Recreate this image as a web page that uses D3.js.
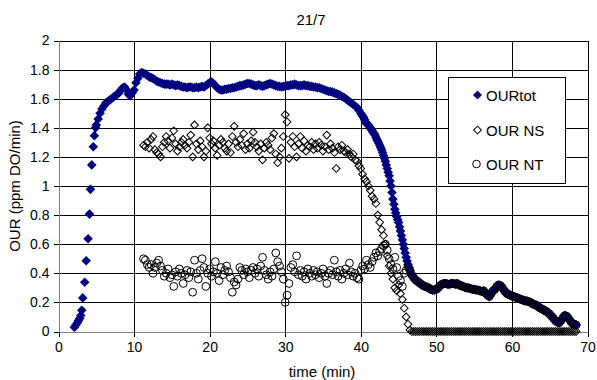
<!DOCTYPE html>
<html><head><meta charset="utf-8">
<script src="https://cdn.jsdelivr.net/npm/d3@7"></script>
<style>
body{margin:0;background:#fff}
text{font-family:"Liberation Sans",Arial,sans-serif;fill:#000}
</style>
</head><body>
<svg id="chart" width="597" height="380"></svg>
<script>
// ---------- data ----------
const chartTitle = "21/7";
const xTitle = "time (min)";
const yTitle = "OUR (ppm DO/min)";
const seriesNames = ["OURtot", "OUR NS", "OUR NT"];
const xTicks = [0, 10, 20, 30, 40, 50, 60, 70];
const yTicks = [0, 0.2, 0.4, 0.6, 0.8, 1, 1.2, 1.4, 1.6, 1.8, 2];
const yTickLabels = ["0", "0.2", "0.4", "0.6", "0.8", "1", "1.2", "1.4", "1.6", "1.8", "2"];

// OURtot, start-up (irregular sample times)
const totEarlyTime  = [2.1, 2.3, 2.5, 2.65, 2.8, 2.95, 3.08, 3.21, 3.47, 3.66, 3.92, 4.10, 4.23, 4.40, 4.60, 4.75, 4.9];
const totEarlyValue = [0.03, 0.045, 0.06, 0.075, 0.09, 0.11, 0.146, 0.231, 0.339, 0.486, 0.637, 0.807, 0.977, 1.145, 1.27, 1.346, 1.40];

// OURtot, extra samples read along the steep fall (times between the regular samples)
const totFallTime  = [40.125, 40.375, 40.625, 40.875, 41.125, 41.375, 41.625, 41.875, 42.125, 42.375, 42.625, 42.875, 43.125,
                      43.375, 43.625, 43.875, 44.125, 44.375, 44.625, 44.875, 45.125, 45.375, 45.625, 45.875, 46.125, 46.375];
const totFallValue = [1.49, 1.47, 1.44, 1.425, 1.41, 1.39, 1.37, 1.35, 1.32, 1.295, 1.265, 1.23, 1.19,
                      1.145, 1.095, 1.035, 0.955, 0.875, 0.815, 0.77, 0.72, 0.66, 0.60, 0.54, 0.485, 0.44];

// regularly sampled part: one row per minute, 4 samples per row
const sampleStep = 0.25;
const totStart = 5.0;
const totValues = [
 1.42,1.46,1.50,1.53,      // 5
 1.55,1.57,1.58,1.59,      // 6
 1.60,1.61,1.62,1.63,      // 7
 1.64,1.66,1.675,1.68,     // 8
 1.66,1.63,1.62,1.64,      // 9
 1.66,1.71,1.74,1.77,      // 10
 1.78,1.775,1.77,1.76,     // 11
 1.75,1.745,1.74,1.73,     // 12
 1.72,1.715,1.71,1.705,    // 13
 1.70,1.70,1.70,1.695,     // 14
 1.70,1.695,1.69,1.695,    // 15
 1.69,1.685,1.68,1.68,     // 16
 1.675,1.68,1.68,1.675,    // 17
 1.675,1.68,1.675,1.68,    // 18
 1.685,1.68,1.69,1.70,     // 19
 1.71,1.715,1.705,1.69,    // 20
 1.675,1.665,1.66,1.66,    // 21
 1.665,1.665,1.67,1.67,    // 22
 1.675,1.675,1.68,1.685,   // 23
 1.69,1.69,1.695,1.70,     // 24
 1.705,1.705,1.70,1.695,   // 25
 1.69,1.69,1.695,1.69,     // 26
 1.685,1.69,1.695,1.70,    // 27
 1.705,1.70,1.695,1.69,    // 28
 1.685,1.685,1.68,1.685,   // 29
 1.685,1.69,1.69,1.695,    // 30
 1.695,1.70,1.695,1.69,    // 31
 1.69,1.69,1.695,1.69,     // 32
 1.69,1.685,1.685,1.68,    // 33
 1.68,1.675,1.675,1.67,    // 34
 1.665,1.66,1.655,1.65,    // 35
 1.65,1.645,1.64,1.635,    // 36
 1.63,1.625,1.615,1.61,    // 37
 1.60,1.59,1.58,1.57,      // 38
 1.56,1.55,1.54,1.52,      // 39
 1.50,1.48,1.455,1.43,     // 40
 1.42,1.40,1.38,1.36,      // 41
 1.335,1.31,1.28,1.25,     // 42
 1.21,1.17,1.12,1.07,      // 43
 1.00,0.91,0.84,0.79,      // 44
 0.75,0.69,0.63,0.57,      // 45
 0.51,0.46,0.42,0.39,      // 46
 0.37,0.355,0.345,0.335,   // 47
 0.325,0.315,0.31,0.305,   // 48
 0.30,0.29,0.285,0.285,    // 49
 0.29,0.30,0.315,0.325,    // 50
 0.33,0.33,0.325,0.325,    // 51
 0.33,0.33,0.325,0.33,     // 52
 0.32,0.315,0.31,0.305,    // 53
 0.30,0.30,0.295,0.29,     // 54
 0.29,0.285,0.285,0.28,    // 55
 0.275,0.28,0.265,0.25,    // 56
 0.24,0.26,0.28,0.29,      // 57
 0.31,0.32,0.315,0.30,     // 58
 0.28,0.265,0.255,0.25,    // 59
 0.245,0.24,0.235,0.23,    // 60
 0.225,0.22,0.215,0.21,    // 61
 0.21,0.205,0.20,0.19,     // 62
 0.185,0.18,0.17,0.16,     // 63
 0.155,0.145,0.14,0.13,    // 64
 0.12,0.105,0.09,0.075,    // 65
 0.065,0.06,0.075,0.095,   // 66
 0.11,0.105,0.09,0.07,     // 67
 0.055,0.05,0.045          // 68
];

const subStart = 11.25;
const nsValues = [
 1.28,1.27,1.30,1.26,  // 11.25
 1.32,1.34,1.25,1.23,  // 12.25
 1.22,1.20,1.27,1.30,  // 13.25
 1.34,1.31,1.26,1.33,  // 14.25
 1.38,1.29,1.24,1.27,  // 15.25
 1.30,1.32,1.28,1.26,  // 16.25
 1.30,1.35,1.20,1.42,  // 17.25
 1.29,1.25,1.31,1.27,  // 18.25
 1.20,1.24,1.40,1.33,  // 19.25
 1.29,1.31,1.26,1.21,  // 20.25
 1.28,1.32,1.30,1.26,  // 21.25
 1.24,1.29,1.23,1.34,  // 22.25
 1.41,1.30,1.27,1.32,  // 23.25
 1.28,1.36,1.25,1.29,  // 24.25
 1.26,1.31,1.37,1.30,  // 25.25
 1.27,1.24,1.29,1.18,  // 26.25
 1.26,1.30,1.28,1.25,  // 27.25
 1.33,1.36,1.22,1.16,  // 28.25
 1.20,1.26,1.34,1.49,  // 29.25
 1.44,1.19,1.30,1.34,  // 30.25
 1.27,1.20,1.29,1.34,  // 31.25
 1.26,1.31,1.24,1.28,  // 32.25
 1.27,1.30,1.25,1.29,  // 33.25
 1.26,1.30,1.28,1.24,  // 34.25
 1.27,1.35,1.25,1.29,  // 35.25
 1.26,1.23,1.12,1.27,  // 36.25
 1.25,1.28,1.24,1.23,  // 37.25
 1.25,1.22,1.20,1.22,  // 38.25
 1.18,1.17,1.14,1.12,  // 39.25
 1.08,1.05,1.03,1.00,  // 40.25
 0.97,0.93,0.91,0.88,  // 41.25
 0.80,0.75,0.70,0.66,  // 42.25
 0.60,0.52,0.45,0.40,  // 43.25
 0.36,0.30,0.28,0.32,  // 44.25
 0.26,0.22,0.16,0.10,  // 45.25
 0.05,0.01,0,0,        // 46.25
 0,0,0,0,  // 47.25
 0,0,0,0,  // 48.25
 0,0,0,0,  // 49.25
 0,0,0,0,  // 50.25
 0,0,0,0,  // 51.25
 0,0,0,0,  // 52.25
 0,0,0,0,  // 53.25
 0,0,0,0,  // 54.25
 0,0,0,0,  // 55.25
 0,0,0,0,  // 56.25
 0,0,0,0,  // 57.25
 0,0,0,0,  // 58.25
 0,0,0,0,  // 59.25
 0,0,0,0,  // 60.25
 0,0,0,0,  // 61.25
 0,0,0,0,  // 62.25
 0,0,0,0,  // 63.25
 0,0,0,0,  // 64.25
 0,0,0,0,  // 65.25
 0,0,0,0,  // 66.25
 0,0,0,0,  // 67.25
 0,0       // 68.25
];

const ntValues = [
 0.50,0.49,0.46,0.44,  // 11.25
 0.46,0.40,0.44,0.47,  // 12.25
 0.49,0.45,0.42,0.38,  // 13.25
 0.40,0.43,0.37,0.39,  // 14.25
 0.31,0.41,0.38,0.43,  // 15.25
 0.40,0.33,0.39,0.42,  // 16.25
 0.37,0.41,0.27,0.49,  // 17.25
 0.40,0.36,0.42,0.50,  // 18.25
 0.44,0.31,0.40,0.43,  // 19.25
 0.38,0.41,0.48,0.40,  // 20.25
 0.35,0.44,0.39,0.42,  // 21.25
 0.45,0.41,0.37,0.27,  // 22.25
 0.34,0.32,0.36,0.44,  // 23.25
 0.42,0.39,0.43,0.41,  // 24.25
 0.37,0.42,0.44,0.40,  // 25.25
 0.43,0.38,0.45,0.51,  // 26.25
 0.42,0.39,0.36,0.41,  // 27.25
 0.38,0.43,0.54,0.48,  // 28.25
 0.45,0.41,0.36,0.20,  // 29.25
 0.25,0.33,0.44,0.46,  // 30.25
 0.41,0.52,0.39,0.42,  // 31.25
 0.38,0.41,0.36,0.43,  // 32.25
 0.40,0.38,0.42,0.39,  // 33.25
 0.41,0.37,0.40,0.43,  // 34.25
 0.38,0.33,0.40,0.42,  // 35.25
 0.39,0.49,0.41,0.38,  // 36.25
 0.42,0.36,0.40,0.43,  // 37.25
 0.39,0.47,0.41,0.38,  // 38.25
 0.40,0.37,0.36,0.42,  // 39.25
 0.45,0.43,0.49,0.46,  // 40.25
 0.44,0.48,0.51,0.54,  // 41.25
 0.52,0.55,0.57,0.59,  // 42.25
 0.60,0.56,0.50,0.46,  // 43.25
 0.43,0.51,0.44,0.38,  // 44.25
 0.35,0.31,0.40,0.42,  // 45.25
 0.45,0.42,0.39,0.37,  // 46.25
 0.355,0.345,0.335,0.325, // 47.25
 0.315,0.31,0.305,0.30,   // 48.25
 0.29,0.285,0.285,0.29,   // 49.25
 0.30,0.315,0.325,0.33,   // 50.25
 0.33,0.325,0.325,0.33,   // 51.25
 0.33,0.325,0.33,0.32,    // 52.25
 0.315,0.31,0.305,0.30,   // 53.25
 0.30,0.295,0.29,0.29,    // 54.25
 0.285,0.285,0.28,0.275,  // 55.25
 0.28,0.265,0.25,0.24,    // 56.25
 0.26,0.28,0.29,0.31,     // 57.25
 0.32,0.315,0.30,0.28,    // 58.25
 0.265,0.255,0.25,0.245,  // 59.25
 0.24,0.235,0.23,0.225,   // 60.25
 0.22,0.215,0.21,0.21,    // 61.25
 0.205,0.20,0.19,0.185,   // 62.25
 0.18,0.17,0.16,0.155,    // 63.25
 0.145,0.14,0.13,0.12,    // 64.25
 0.105,0.09,0.075,0.065,  // 65.25
 0.06,0.075,0.095,0.11,   // 66.25
 0.105,0.09,0.07,0.055,   // 67.25
 0.05,0.045               // 68.25
];

// ---------- build points ----------
const totPoints = totEarlyTime.map((t, i) => [t, totEarlyValue[i]])
  .concat(totValues.map((v, i) => [totStart + i * sampleStep, v]))
  .concat(totFallTime.map((t, i) => [t, totFallValue[i]]));
const nsPoints = nsValues.map((v, i) => [subStart + i * sampleStep, v]);
const ntPoints = ntValues.map((v, i) => [subStart + i * sampleStep, v]);

// ---------- drawing ----------
const svg = d3.select("#chart");
svg.append("rect").attr("width", 597).attr("height", 380).attr("fill", "#fff");

const L = 58.5, R = 587.5, T = 40.5, B = 331.5;
const x = d3.scaleLinear().domain([0, 70]).range([L, R]);
const y = d3.scaleLinear().domain([0, 2]).range([B, T]);

const grid = svg.append("g").attr("shape-rendering", "crispEdges");
grid.selectAll(".hg").data(yTicks.filter(d => d > 0)).join("line")
  .attr("x1", L).attr("x2", R)
  .attr("y1", d => Math.round(y(d)) + 0.5).attr("y2", d => Math.round(y(d)) + 0.5)
  .attr("stroke", "#000").attr("stroke-width", 1);
grid.selectAll(".vg").data(xTicks.filter(d => d > 0)).join("line")
  .attr("y1", T).attr("y2", B)
  .attr("x1", d => Math.round(x(d)) + 0.5).attr("x2", d => Math.round(x(d)) + 0.5)
  .attr("stroke", "#000").attr("stroke-width", 1);

// axes
const yAxis = d3.axisLeft(y).tickValues(yTicks).tickSize(5).tickPadding(4)
  .tickFormat((d, i) => yTickLabels[i]);
const gy = svg.append("g").attr("transform", `translate(${L},0)`).call(yAxis);
const xAxis = d3.axisBottom(x).tickValues(xTicks).tickSize(5).tickPadding(6)
  .tickFormat(d => String(d));
const gx = svg.append("g").attr("transform", `translate(0,${B})`).call(xAxis);
[gx, gy].forEach(g => {
  g.attr("shape-rendering", "crispEdges");
  g.select(".domain").attr("stroke", "#808080");
  g.selectAll(".tick line").attr("stroke", "#000");
  g.selectAll(".tick text").style("font-family", '"Liberation Sans",Arial,sans-serif')
   .style("font-size", "14px").attr("fill", "#000");
});
gy.select(".domain").attr("d", `M0.5,${T}V${B}`);
gx.select(".domain").attr("d", `M${L},0.5H${R}`);

// series
const totSym = d3.symbol().type(d3.symbolSquare).size(46);
const nsSym = d3.symbol().type(d3.symbolSquare).size(30);
const totG = svg.append("g");
totG.selectAll("path").data(totPoints).join("path")
  .attr("d", totSym())
  .attr("transform", d => `translate(${x(d[0])},${y(d[1])}) rotate(45)`)
  .attr("fill", "#000080").attr("stroke", "none");

const nsG = svg.append("g");
nsG.selectAll("path").data(nsPoints).join("path")
  .attr("d", nsSym())
  .attr("transform", d => `translate(${x(d[0])},${y(d[1])}) rotate(45)`)
  .attr("fill", "none").attr("stroke", "#000").attr("stroke-width", 1);

const ntG = svg.append("g");
ntG.selectAll("circle").data(ntPoints).join("circle")
  .attr("cx", d => x(d[0])).attr("cy", d => y(d[1])).attr("r", 3.9)
  .attr("fill", "none").attr("stroke", "#000").attr("stroke-width", 1);

// titles
svg.append("text").attr("x", 311).attr("y", 25).attr("text-anchor", "middle")
  .style("font-size", "15px").text(chartTitle);
svg.append("text").attr("x", 322).attr("y", 377).attr("text-anchor", "middle")
  .style("font-size", "15px").text(xTitle);
svg.append("text").attr("transform", `translate(20,${(T + B) / 2}) rotate(-90)`)
  .attr("text-anchor", "middle").style("font-size", "15px").text(yTitle);

// legend
const lg = svg.append("g");
lg.append("rect").attr("x", 448.5).attr("y", 77.5).attr("width", 117).attr("height", 106)
  .attr("fill", "#fff").attr("stroke", "#000").attr("shape-rendering", "crispEdges");
const legY = [95, 130, 164];
lg.append("path").attr("d", d3.symbol().type(d3.symbolSquare).size(40)())
  .attr("transform", `translate(477.5,${legY[0]}) rotate(45)`).attr("fill", "#000080");
lg.append("path").attr("d", nsSym())
  .attr("transform", `translate(477.5,${legY[1]}) rotate(45)`)
  .attr("fill", "none").attr("stroke", "#000");
lg.append("circle").attr("cx", 476.5).attr("cy", legY[2]).attr("r", 3.8)
  .attr("fill", "none").attr("stroke", "#000");
seriesNames.forEach((n, i) => {
  lg.append("text").attr("x", 486).attr("y", legY[i] + 5.5)
    .style("font-size", "15px").text(n);
});
</script>
</body></html>
